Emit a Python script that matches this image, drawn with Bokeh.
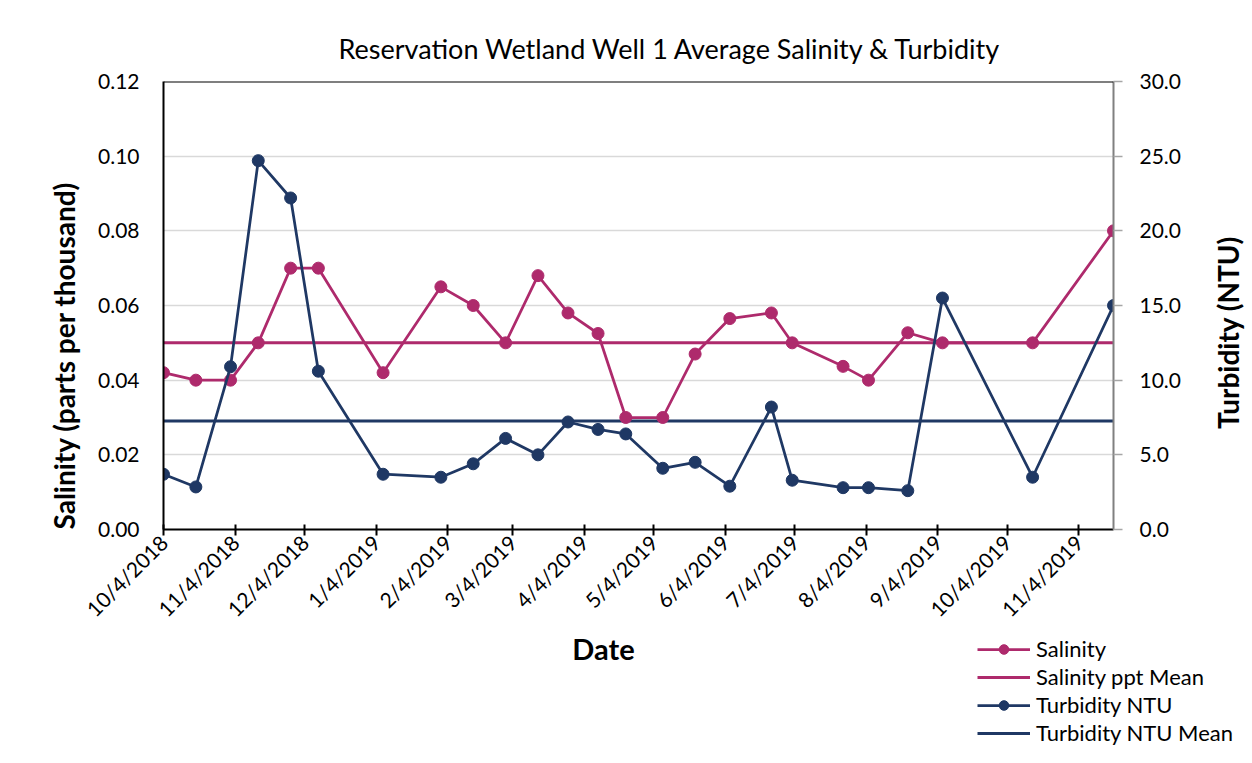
import numpy as np
import pandas as pd
from math import pi
from bokeh.plotting import figure
from bokeh.layouts import column, row
from bokeh.models import (Range1d, LinearAxis, FixedTicker, NumeralTickFormatter,
                          Legend, LegendItem, Span, Title, Label)
from bokeh.embed import file_html
from bokeh.resources import INLINE

# ---------------- data ----------------
dates = ["10/4/2018", "10/18/2018", "11/2/2018", "11/14/2018", "11/28/2018",
         "12/10/2018", "1/7/2019", "2/1/2019", "2/15/2019", "3/1/2019",
         "3/15/2019", "3/28/2019", "4/10/2019", "4/22/2019", "5/8/2019",
         "5/22/2019", "6/6/2019", "6/24/2019", "7/3/2019", "7/25/2019",
         "8/5/2019", "8/22/2019", "9/6/2019", "10/15/2019", "11/19/2019"]
salinity = [0.042, 0.040, 0.040, 0.050, 0.070, 0.070, 0.042, 0.065, 0.060, 0.050,
            0.068, 0.058, 0.0525, 0.030, 0.030, 0.047, 0.0565, 0.058, 0.050, 0.0437,
            0.040, 0.0527, 0.050, 0.050, 0.080]
turbidity = [3.7, 2.85, 10.9, 24.7, 22.2, 10.6, 3.7, 3.5, 4.4, 6.1,
             5.0, 7.2, 6.7, 6.4, 4.1, 4.5, 2.9, 8.2, 3.3, 2.8,
             2.8, 2.6, 15.5, 3.5, 15.0]
salinity_mean = 0.050
turbidity_mean = 7.27

tick_labels = ["10/4/2018", "11/4/2018", "12/4/2018", "1/4/2019", "2/4/2019",
               "3/4/2019", "4/4/2019", "5/4/2019", "6/4/2019", "7/4/2019",
               "8/4/2019", "9/4/2019", "10/4/2019", "11/4/2019"]
left_ticks = [0.0, 0.02, 0.04, 0.06, 0.08, 0.10, 0.12]
right_ticks = [0, 5, 10, 15, 20, 25, 30]

title_text = "Reservation Wetland Well 1 Average Salinity & Turbidity"
legend_labels = ["Salinity", "Salinity ppt Mean", "Turbidity NTU", "Turbidity NTU Mean"]

# ---------------- styling ----------------
SAL = "#AE2A6C"
TUR = "#1F3864"
FONT = "Lato"

x = pd.to_datetime(dates, format="%m/%d/%Y")
tick_ts = pd.to_datetime(tick_labels, format="%m/%d/%Y")
tick_ms = [int(t.value // 10**6) for t in tick_ts]
overrides = {}
for ms, lab in zip(tick_ms, tick_labels):
    overrides[ms] = lab
    overrides[str(ms)] = lab

W_TOTAL = 1252
W1 = 1210            # main chart width
W3 = W_TOTAL - W1    # strip holding the right axis title
H1 = 632
H2 = 123
can_unalign = "frame_align" in figure().properties()

p = figure(width=W1, height=H1, x_axis_type="datetime",
           x_range=Range1d(x[0], x[-1]), y_range=Range1d(0, 0.12),
           output_backend="svg", toolbar_location=None,
           min_border_left=163, min_border_right=W1 - 1113,
           min_border_top=81, min_border_bottom=H1 - 529)
p.extra_y_ranges = {"turb": Range1d(0, 30)}
p.background_fill_color = "white"
p.border_fill_color = "white"
p.outline_line_color = None

# grid
p.xgrid.grid_line_color = None
p.ygrid.grid_line_color = "#D9D9D9"
p.ygrid.grid_line_width = 1.5

# x axis
xa = p.xaxis[0]
xa.ticker = FixedTicker(ticks=tick_ms)
xa.major_label_overrides = overrides
xa.minor_tick_line_color = None
xa.major_tick_in = 5
xa.major_tick_out = 6
xa.major_tick_line_width = 2
xa.major_tick_line_color = "black"
xa.axis_line_color = "black"
xa.axis_line_width = 2
xa.major_label_orientation = pi / 4
xa.major_label_standoff = 3
xa.major_label_text_font = FONT
xa.major_label_text_font_size = "21px"
xa.major_label_text_color = "black"

# left axis
ya = p.yaxis[0]
ya.ticker = FixedTicker(ticks=left_ticks)
ya.formatter = NumeralTickFormatter(format="0.00")
ya.minor_tick_line_color = None
ya.major_tick_in = 0
ya.major_tick_out = 0
ya.axis_line_color = "black"
ya.axis_line_width = 2
ya.major_label_standoff = 24
ya.major_label_text_font = FONT
ya.major_label_text_font_size = "21px"
ya.major_label_text_color = "black"

# right axis
ra = LinearAxis(y_range_name="turb", ticker=FixedTicker(ticks=right_ticks),
                formatter=NumeralTickFormatter(format="0.0"))
ra.minor_tick_line_color = None
ra.major_tick_in = 0
ra.major_tick_out = 9
ra.major_tick_line_color = "#A6A6A6"
ra.major_tick_line_width = 1.5
ra.axis_line_color = "#808080"
ra.axis_line_width = 2
ra.major_label_standoff = 17
ra.major_label_text_font = FONT
ra.major_label_text_font_size = "21px"
ra.major_label_text_color = "black"
p.add_layout(ra, "right")

# top border of plot area
p.add_layout(Span(location=0.12, dimension="width", line_color="black", line_width=2))

# series
p.line([x[0], x[-1]], [salinity_mean, salinity_mean], line_color=SAL, line_width=3)
p.line([x[0], x[-1]], [turbidity_mean, turbidity_mean], line_color=TUR,
       line_width=3, y_range_name="turb")
p.line(x, salinity, line_color=SAL, line_width=2.75)
p.scatter(x, salinity, size=12, fill_color=SAL, line_color=SAL)
p.line(x, turbidity, line_color=TUR, line_width=2.75, y_range_name="turb")
p.scatter(x, turbidity, size=12, fill_color=TUR, line_color=TUR, y_range_name="turb")

# titles in side panels
p.add_layout(Title(text=title_text, align="left", offset=175, standoff=34,
                   text_font=FONT, text_font_size="27px", text_font_style="normal",
                   text_color="black"), "above")
p.add_layout(Title(text="Salinity (parts per thousand)", align="left", offset=0, standoff=30,
                   text_font=FONT, text_font_size="28px", text_font_style="bold",
                   text_color="black"), "left")


def blank_strip(w, h):
    f = figure(width=w, height=h, x_range=Range1d(0, w), y_range=Range1d(0, h),
               output_backend="svg", toolbar_location=None,
               x_axis_location=None, y_axis_location=None,
               min_border_left=0, min_border_right=0, min_border_top=0, min_border_bottom=0)
    f.grid.grid_line_color = None
    f.outline_line_color = None
    f.background_fill_color = "white"
    f.border_fill_color = "white"
    if can_unalign:
        f.frame_align = False
    return f


if can_unalign:
    p.frame_align = False

# ---------------- right strip: secondary axis title ----------------
p3 = blank_strip(W3, H1)
p3.add_layout(Label(x=1227 - W1, y=H1 - 332, x_units="screen", y_units="screen",
                    text="Turbidity (NTU)", angle=pi / 2, text_align="center",
                    text_baseline="middle", text_font=FONT, text_font_size="28px",
                    text_font_style="bold", text_color="black"))

# ---------------- lower strip: axis title + legend ----------------
p2 = blank_strip(W_TOTAL, H2)
x_shift = 0 if can_unalign else 163
off = [-1000]  # legend-only sample renderers, placed outside the visible strip
k1 = p2.line(off, off, line_color=SAL, line_width=2.75)
k1m = p2.scatter(off, off, size=12, fill_color=SAL, line_color=SAL)
k2 = p2.line(off, off, line_color=SAL, line_width=3)
k3 = p2.line(off, off, line_color=TUR, line_width=2.75)
k3m = p2.scatter(off, off, size=12, fill_color=TUR, line_color=TUR)
k4 = p2.line(off, off, line_color=TUR, line_width=3)

legend = Legend(items=[
    LegendItem(label=legend_labels[0], renderers=[k1, k1m]),
    LegendItem(label=legend_labels[1], renderers=[k2]),
    LegendItem(label=legend_labels[2], renderers=[k3, k3m]),
    LegendItem(label=legend_labels[3], renderers=[k4]),
], location=(977 - x_shift, 9))
legend.padding = 0
legend.margin = 0
legend.spacing = 1
legend.glyph_width = 53
legend.glyph_height = 24
legend.label_standoff = 6
legend.label_height = 24
legend.label_text_font = FONT
legend.label_text_font_size = "22px"
legend.label_text_color = "black"
legend.border_line_color = None
legend.background_fill_alpha = 0
p2.add_layout(legend, "center")

p2.add_layout(Label(x=603 - x_shift, y=107, x_units="screen",
                    y_units="screen", text="Date",
                    text_align="center", text_baseline="middle", text_font=FONT,
                    text_font_size="29px", text_font_style="bold", text_color="black"))

layout = column(row(p, p3, spacing=0), p2, spacing=0)
open("out.html", "w").write(file_html(layout, INLINE))
